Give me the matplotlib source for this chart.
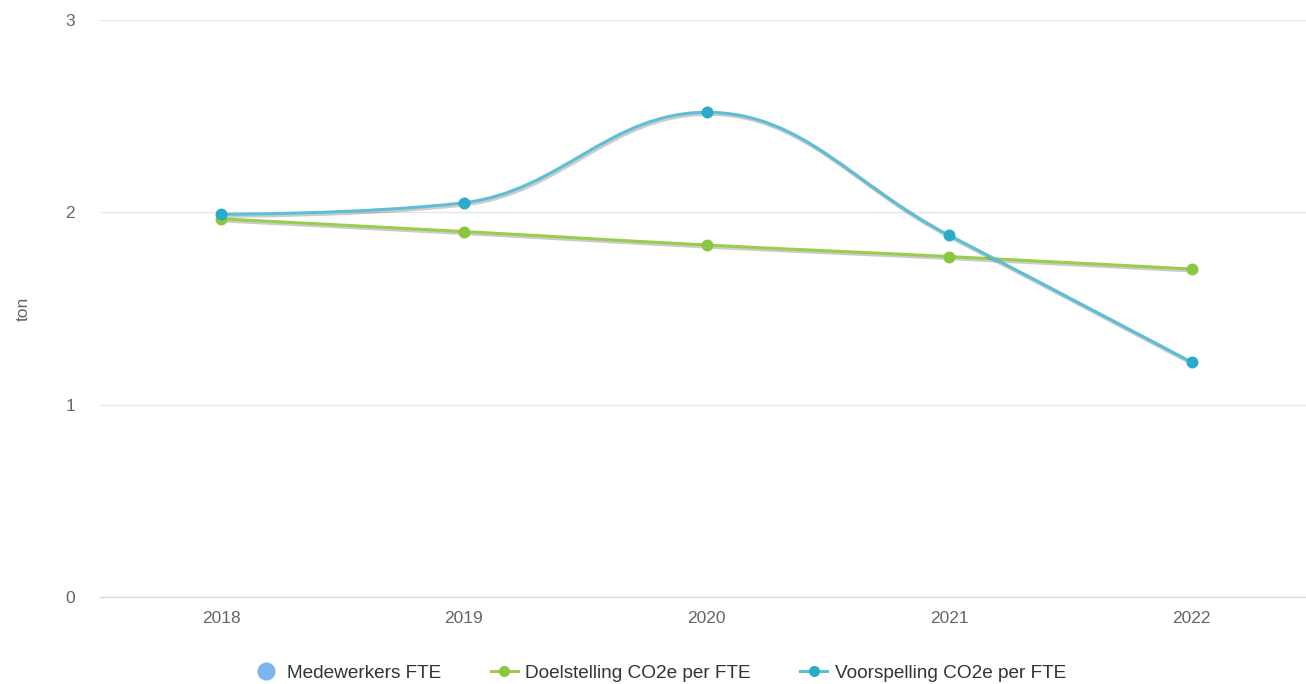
import matplotlib.pyplot as plt
import matplotlib.patheffects as pe
from matplotlib.path import Path
from matplotlib.patches import PathPatch
from matplotlib.lines import Line2D

plt.rcParams['font.family'] = ['Liberation Sans', 'DejaVu Sans']

years = ['2018', '2019', '2020', '2021', '2022']
doelstelling = [1.966, 1.90, 1.83, 1.77, 1.705]
voorspelling = [1.99, 2.05, 2.52, 1.88, 1.22]

green_line = '#98cd4f'
green_dot = '#8cc63f'
blue_line = '#5cbfd5'
blue_dot = '#2aabca'
grey_txt = '#666666'


def spline_path(xs, ys, smoothing=1.5):
    # highcharts style spline -> cubic bezier segments
    denom = smoothing + 1
    n = len(xs)
    left = [None] * n
    right = [None] * n
    for i in range(n):
        px, py = xs[i], ys[i]
        if i == 0 or i == n - 1:
            left[i] = (px, py)
            right[i] = (px, py)
            continue
        lx, ly = xs[i - 1], ys[i - 1]
        nx, ny = xs[i + 1], ys[i + 1]
        lcx = (smoothing * px + lx) / denom
        lcy = (smoothing * py + ly) / denom
        rcx = (smoothing * px + nx) / denom
        rcy = (smoothing * py + ny) / denom
        if rcx != lcx:
            corr = (rcy - lcy) * (rcx - px) / (rcx - lcx) + py - rcy
            lcy += corr
            rcy += corr
            if lcy > ly and lcy > py:
                lcy = max(ly, py)
                rcy = 2 * py - lcy
            elif lcy < ly and lcy < py:
                lcy = min(ly, py)
                rcy = 2 * py - lcy
            if rcy > ny and rcy > py:
                rcy = max(ny, py)
                lcy = 2 * py - rcy
            elif rcy < ny and rcy < py:
                rcy = min(ny, py)
                lcy = 2 * py - rcy
        left[i] = (lcx, lcy)
        right[i] = (rcx, rcy)
    verts = [(xs[0], ys[0])]
    codes = [Path.MOVETO]
    for i in range(1, n):
        verts += [right[i - 1], left[i], (xs[i], ys[i])]
        codes += [Path.CURVE4] * 3
    return Path(verts, codes)


fig = plt.figure(figsize=(13.06, 6.84), dpi=100)
ax = fig.add_axes([100 / 1306, 1 - 597 / 684, 1213 / 1306, 577 / 684])

x = list(range(len(years)))
shadow = [pe.SimpleLineShadow(offset=(1, -1), shadow_color='k', alpha=0.2, linewidth=3.2), pe.Normal()]

for vals, lc, dc in [(doelstelling, green_line, green_dot), (voorspelling, blue_line, blue_dot)]:
    patch = PathPatch(spline_path(x, vals), facecolor='none', edgecolor=lc, lw=2.2,
                      path_effects=shadow, zorder=3, capstyle='round', joinstyle='round')
    ax.add_patch(patch)
    ax.plot(x, vals, ls='none', marker='o', ms=8.6, color=dc, mew=0, zorder=4)

ax.set_xlim(-0.5, 4.5)
ax.set_ylim(0, 3)
ax.set_yticks([0, 1, 2, 3])
ax.set_xticks(x)
ax.set_xticklabels(years)
ax.grid(axis='y', color='#e6e6e6', lw=1)
ax.set_axisbelow(True)
for s in ['top', 'right', 'left']:
    ax.spines[s].set_visible(False)
ax.spines['bottom'].set_color('#ccd6eb')
ax.tick_params(axis='both', length=0, labelsize=12.5, colors=grey_txt)
ax.tick_params(axis='y', pad=18)
ax.tick_params(axis='x', pad=10)
ax.set_ylabel('ton', color=grey_txt, fontsize=12.5, labelpad=25)

handles = [
    Line2D([], [], ls='none', marker='o', ms=13, color='#7cb5ec', mew=0),
    Line2D([], [], color=green_line, lw=2.2, marker='o', ms=8, mfc=green_dot, mew=0),
    Line2D([], [], color=blue_line, lw=2.2, marker='o', ms=8, mfc=blue_dot, mew=0),
]
labels = ['Medewerkers FTE', 'Doelstelling CO2e per FTE', 'Voorspelling CO2e per FTE']
fig.legend(handles, labels, loc='center', bbox_to_anchor=(0.505, 1 - 673 / 684), ncol=3,
           frameon=False, fontsize=13.7, labelcolor='#333333', handlelength=1.4,
           handletextpad=0.4, columnspacing=2.6)

fig.savefig('out.png', dpi=100)
